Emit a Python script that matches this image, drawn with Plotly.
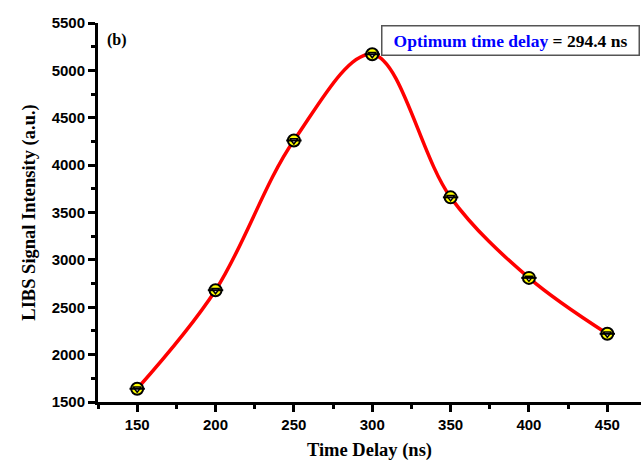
import plotly.graph_objects as go

# Measured LIBS signal intensity versus gate delay
time_delay_ns = [150, 200, 250, 300, 350, 400, 450]
intensity_au = [1640, 2680, 4260, 5170, 3660, 2810, 2220]

x_ticks = [150, 200, 250, 300, 350, 400, 450]
y_ticks = [1500, 2000, 2500, 3000, 3500, 4000, 4500, 5000, 5500]

optimum_delay_ns = 294.4

fig = go.Figure()

# smooth fitted curve through the points
fig.add_trace(go.Scatter(
    x=time_delay_ns, y=intensity_au, mode="lines",
    line=dict(color="#ff0000", width=3.5, shape="spline", smoothing=1.0),
    hoverinfo="skip", showlegend=False,
))

# half-filled circle symbols: yellow disc, white lower wedge, black midline
fig.add_trace(go.Scatter(
    x=time_delay_ns, y=intensity_au, mode="markers",
    marker=dict(symbol="circle", size=12, color="#ffff00",
                line=dict(color="black", width=2)),
    showlegend=False,
))
fig.add_trace(go.Scatter(
    x=time_delay_ns, y=intensity_au, mode="markers",
    marker=dict(symbol="triangle-down", size=7, color="white",
                line=dict(color="black", width=1.5)),
    hoverinfo="skip", showlegend=False,
))
fig.add_trace(go.Scatter(
    x=time_delay_ns, y=intensity_au, mode="markers",
    marker=dict(symbol="line-ew", size=11,
                line=dict(color="black", width=2)),
    hoverinfo="skip", showlegend=False,
))

tick_font = dict(family="Liberation Sans, Arial, sans-serif", size=15, color="black")
title_font = dict(family="Liberation Serif, Times New Roman, serif", size=18.5, color="black")

fig.update_xaxes(
    range=[125, 471.5], tickvals=x_ticks, ticktext=[f"<b>{v}</b>" for v in x_ticks],
    showline=True, linecolor="black", linewidth=3,
    ticks="outside", ticklen=7, tickwidth=3, tickcolor="black",
    minor=dict(dtick=25, tick0=125, ticks="outside", ticklen=4, tickwidth=3, tickcolor="black"),
    showgrid=False, zeroline=False,
    tickfont=tick_font,
    title=dict(text="<b>Time Delay (ns)</b>", font=title_font, standoff=12),
)
fig.update_yaxes(
    range=[1500, 5500], tickvals=y_ticks, ticktext=[f"<b>{v}</b>" for v in y_ticks],
    showline=True, linecolor="black", linewidth=3,
    ticks="outside", ticklen=7, tickwidth=3, tickcolor="black",
    minor=dict(dtick=250, tick0=1500, ticks="outside", ticklen=4, tickwidth=3, tickcolor="black"),
    showgrid=False, zeroline=False,
    tickfont=tick_font,
    title=dict(text="<b>LIBS Signal Intensity (a.u.)</b>", font=title_font, standoff=12),
)

fig.add_annotation(
    xref="paper", yref="paper", x=0.0133, y=0.985, xanchor="left", yanchor="top",
    text="<b>(b)</b>", showarrow=False,
    font=dict(family="Liberation Serif, Times New Roman, serif", size=16, color="black"),
)
fig.add_annotation(
    xref="paper", yref="paper", x=0.999, y=0.996, xanchor="right", yanchor="top",
    text=("<b><span style='color:#0000ff'>Optimum time delay</span> = "
          f"{optimum_delay_ns} ns</b>"),
    showarrow=False, width=254, height=26, align="center",
    bordercolor="#555555", borderwidth=1.5, borderpad=1, bgcolor="white",
    font=dict(family="Liberation Serif, Times New Roman, serif", size=17.5, color="black"),
)

fig.update_layout(
    width=641, height=461,
    margin=dict(l=98, r=0, t=23, b=59),
    plot_bgcolor="white", paper_bgcolor="white",
)

fig.write_html("out.html")
